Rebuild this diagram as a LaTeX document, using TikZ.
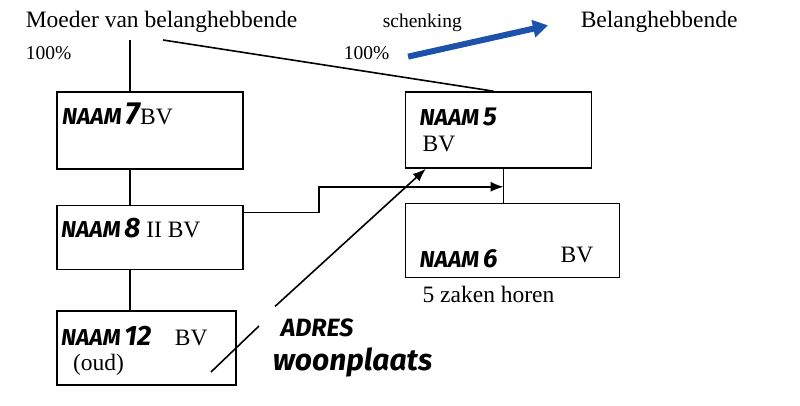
\documentclass[tikz,border=0pt]{standalone}
\usepackage{fontspec}
\setmainfont{Liberation Serif}
\newfontfamily\handfont{Fira Sans}
\usetikzlibrary{arrows.meta,positioning,calc}
\definecolor{giftblue}{RGB}{28,82,170}
% handwritten company names
\newcommand{\naam}[2]{{\handfont\bfseries\itshape\fontsize{23}{23}\selectfont NAAM\,\fontsize{#2}{#2}\selectfont #1}}

\begin{document}
\begin{tikzpicture}[
		x=1pt, y=-1pt,
		line width=1.6pt,
		node distance=35pt,
		box/.style={draw, inner sep=0pt, minimum width=186pt, minimum height=76pt},
		txt/.style={inner sep=0pt, anchor=base west, font=\fontsize{23.5}{26}\selectfont},
		small/.style={inner sep=0pt, anchor=base west, font=\fontsize{19.5}{22}\selectfont},
		hand/.style={inner sep=0pt, anchor=base west},
		arr/.style={-{Latex[length=13pt,width=10pt]}},
		gift/.style={-{Triangle[length=15pt,width=17pt]}, line width=6pt, draw=giftblue}
		]
		\useasboundingbox (0,0) rectangle (800,406);
		
		\node[txt] (moeder) at (25,28) {Moeder van belanghebbende};
		\node[small] (pct1) at (25,60) {100\%};
		\node[small] (pct2) at (343,60) {100\%};
		\node[small] (schenk) at (382,28) {schenking};
		\node[txt] (belang) at (580,28) {Belanghebbende};
		
		\node[box, minimum height=77pt] (box7) at (150,130.5) {};
		\node[box, minimum height=64pt, below=35pt of box7] (box8) {};
		\node[box, minimum width=179pt, minimum height=74pt, below=40pt of box8.south west, anchor=north west] (box12) {};
		\node[box, minimum width=186pt, right=161pt of box7.north east, anchor=north west] (box5) {};
		\node[box, minimum width=214pt, minimum height=74pt, below=34pt of box5.south west, anchor=north west] (box6) {};
		
		\node[txt] (l7) at ($(box7.north west)+(5,33)$) {\naam{7}{32}BV};
		\node[txt] (l8) at ($(box8.north west)+(4,33)$) {\naam{8}{28} II BV};
		\node[txt] (l12) at ($(box12.north west)+(4,35)$) {\naam{12}{28}\quad BV};
		\node[txt] (oud) at ($(box12.north west)+(16,60)$) {(oud)};
		\node[txt] (l5) at ($(box5.north west)+(14,34)$) {\naam{5}{26}};
		\node[txt] (bv5) at ($(box5.north west)+(17,60)$) {BV};
		\node[txt] (l6) at ($(box6.north west)+(14,65)$) {\naam{6}{26}};
		\node[txt] (bv6) at ($(box6.north west)+(155,60)$) {BV};
		\node[txt] (zaken) at ($(box6.south west)+(17,24)$) {5 zaken horen};
		
		\node[hand, font=\handfont\bfseries\itshape\fontsize{25}{25}\selectfont] (adres) at (280,336) {ADRES};
		\node[hand, font=\handfont\bfseries\itshape\fontsize{30}{30}\selectfont] (woon) at (272,370) {woonplaats};
		
		\coordinate (stem) at (130,40);
		\coordinate (stem2) at (163,40);
		\draw (stem) -- (stem |- box7.north);
		\draw (stem |- box7.south) -- (stem |- box8.north);
		\draw (stem |- box8.south) -- (stem |- box12.north);
		\draw (stem2) -- ($(box5.north)+(-5,0)$);
		
		\draw ($(box5.south)+(5,0)$) coordinate (hang) -- (hang |- box6.north);
		\coordinate (join) at ($(box5.south)+(5,18)$);
		\draw[arr] ($(box8.north east)+(0,7.5)$) -- ++(75,0) |- (join);
		
		\draw[arr] ($(adres.north west)+(-5,-11)$) -- ($(box5.south west)+(21,0)$);
		\coordinate (s1) at (211,372);
		\coordinate (s2) at (259,326);
		\draw (s1) -- (s2);
		
		\draw[gift] ($(pct2.east)+(18,3)$) -- ($(belang.west)+(-32,3)$);
		
	\end{tikzpicture}
\end{document}
